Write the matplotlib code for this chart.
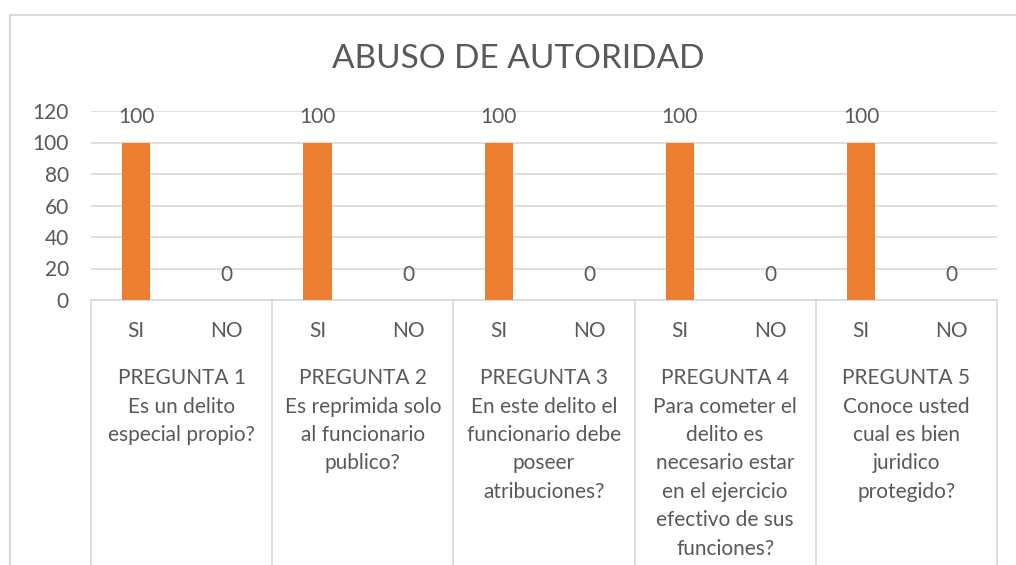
import matplotlib.pyplot as plt
import matplotlib.transforms as mtransforms
from matplotlib.lines import Line2D

plt.rcParams['font.family'] = ['Lato', 'DejaVu Sans']

answers = ["SI", "NO"] * 5
values = [100, 0, 100, 0, 100, 0, 100, 0, 100, 0]
questions = [
    "PREGUNTA 1\nEs un delito\nespecial propio?",
    "PREGUNTA 2\nEs reprimida solo\nal funcionario\npublico?",
    "PREGUNTA 3\nEn este delito el\nfuncionario debe\nposeer\natribuciones?",
    "PREGUNTA 4\nPara cometer el\ndelito es\nnecesario estar\nen el ejercicio\nefectivo de sus\nfunciones?",
    "PREGUNTA 5\nConoce usted\ncual es bien\njuridico\nprotegido?",
]

text_color = "#595959"
grid_color = "#D9D9D9"
bar_color = "#ED7D31"

W, H = 1016, 565
fig = plt.figure(figsize=(W / 100, H / 100), dpi=100)
ax = fig.add_axes([91 / W, 1 - 300 / H, (997 - 91) / W, (300 - 111) / H])

x = list(range(len(values)))
bars = ax.bar(x, values, width=0.31, color=bar_color, zorder=3)
ax.bar_label(bars, labels=[str(v) for v in values], padding=11,
             fontsize=15, color=text_color)

ax.set_xlim(-0.5, len(values) - 0.5)
ax.set_ylim(0, 120)
ax.set_yticks(range(0, 121, 20))
ax.tick_params(axis='y', length=0, pad=16, labelsize=15, labelcolor=text_color)
ax.set_xticks(x)
ax.set_xticklabels(answers)
ax.tick_params(axis='x', length=0, pad=15, labelsize=15, labelcolor=text_color)
ax.grid(axis='y', color=grid_color, linewidth=1.2, zorder=0)
for s in ["top", "right", "left"]:
    ax.spines[s].set_visible(False)
ax.spines["bottom"].set_color(grid_color)
ax.spines["bottom"].set_linewidth(1.2)

# group separators and question labels
trans = mtransforms.blended_transform_factory(ax.transData, ax.transAxes)
for b in range(len(questions) + 1):
    ax.plot([2 * b - 0.5, 2 * b - 0.5], [0, -1.5], transform=trans,
            color=grid_color, linewidth=1.2, clip_on=False)
for i, q in enumerate(questions):
    ax.text(2 * i + 0.5, -0.36, q, transform=trans, ha='center', va='top',
            fontsize=15, color=text_color, linespacing=1.53)

fig.text(518 / W, 1 - 59 / H, "ABUSO DE AUTORIDAD", ha='center', va='center',
         fontsize=24, color=text_color)

# outer chart border
fig.add_artist(Line2D([10 / W, 10 / W], [0, 1 - 15 / H], color=grid_color, linewidth=1.5))
fig.add_artist(Line2D([10 / W, 1], [1 - 15 / H, 1 - 15 / H], color=grid_color, linewidth=1.5))

fig.savefig("out.png", dpi=100)
